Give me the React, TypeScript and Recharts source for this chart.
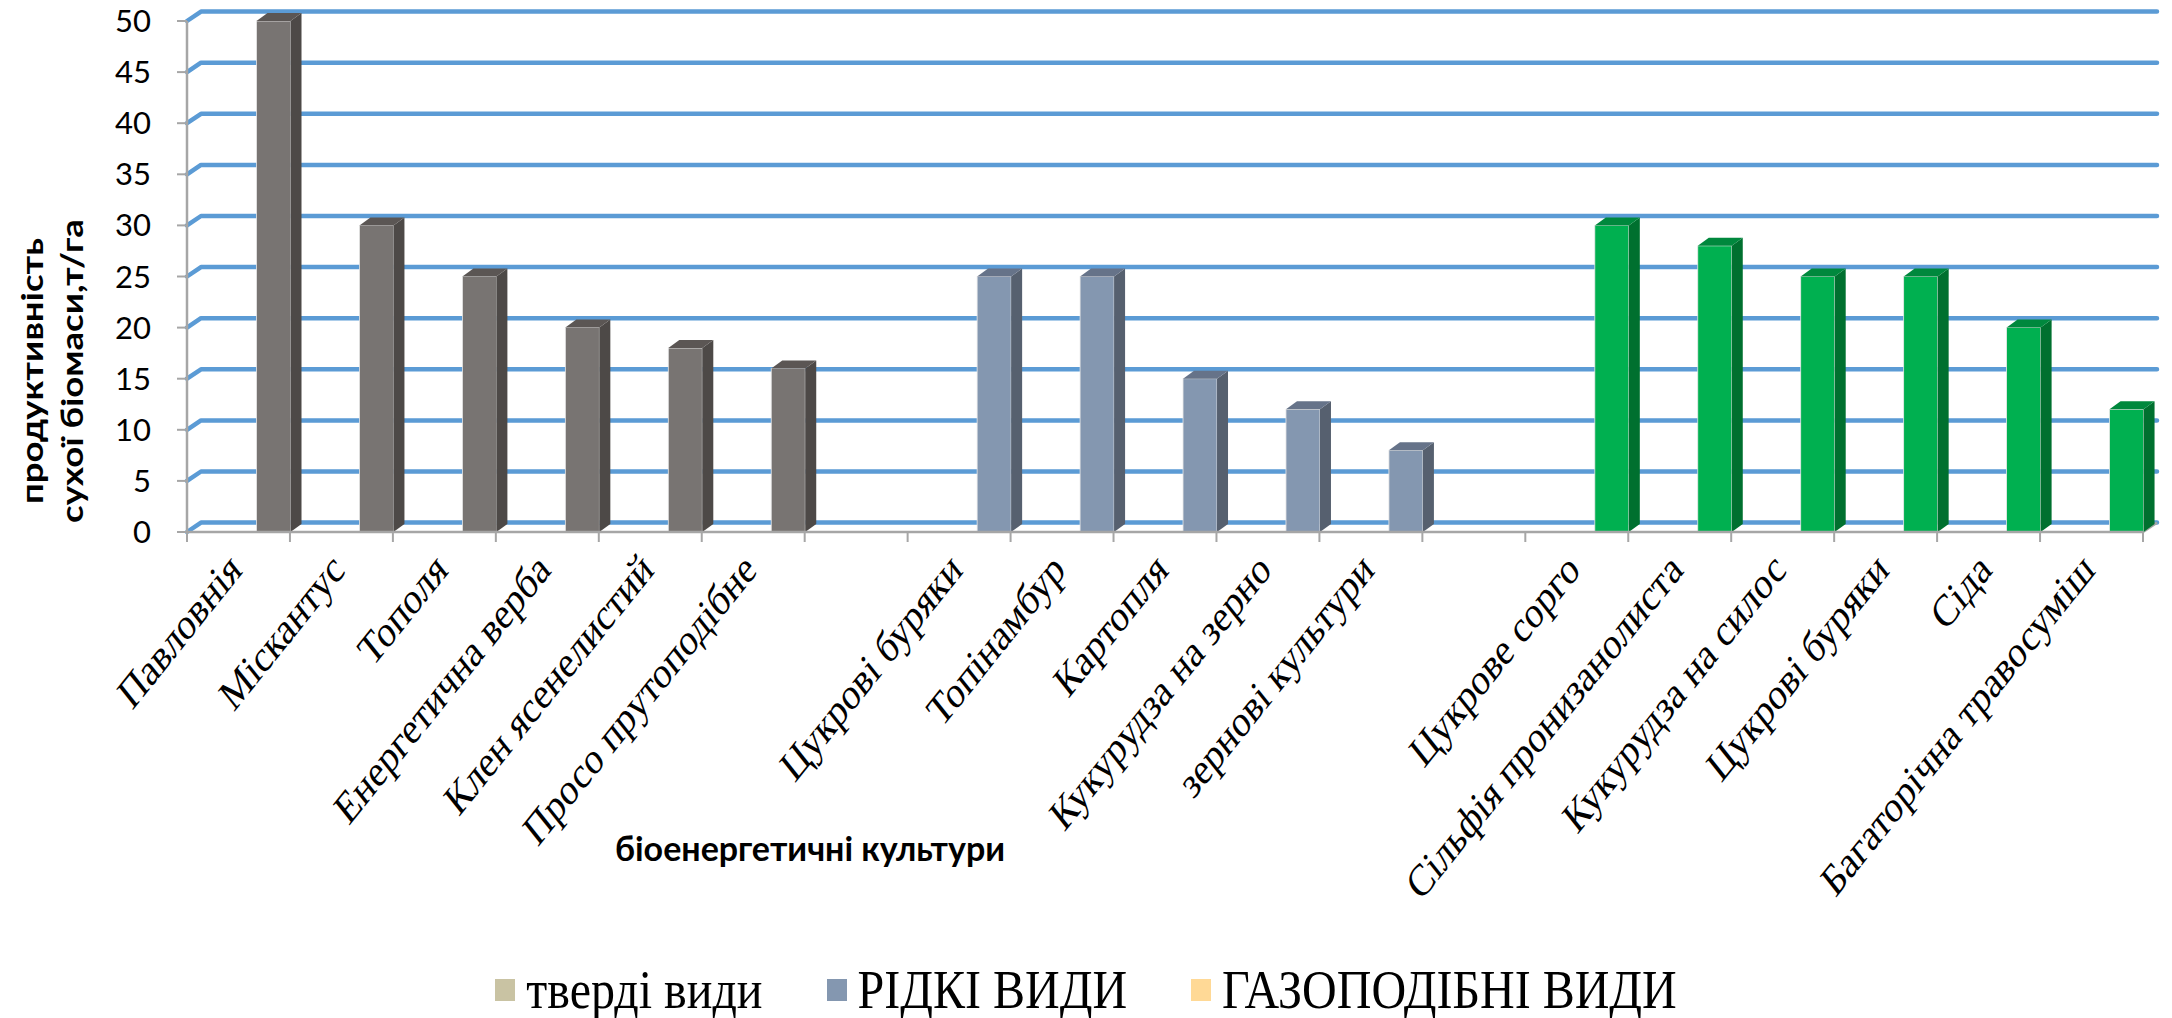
import { Bar, BarChart, CartesianGrid, Label, Legend, XAxis, YAxis } from 'recharts';

const solidCrops = ['Павловнія', 'Міскантус', 'Тополя', 'Енергетична верба', 'Клен ясенелистий', 'Просо прутоподібне'];
const solidYield = [50, 30, 25, 20, 18, 16];
const liquidCrops = ['Цукрові буряки', 'Топінамбур', 'Картопля', 'Кукурудза на зерно', 'зернові культури'];
const liquidYield = [25, 25, 15, 12, 8];
const gasCrops = ['Цукрове сорго', 'Сільфія пронизанолиста', 'Кукурудза на силос', 'Цукрові буряки', 'Сіда', 'Багаторічна травосуміш'];
const gasYield = [30, 28, 25, 25, 20, 12];
const yTicks = [0, 5, 10, 15, 20, 25, 30, 35, 40, 45, 50];

const seriesNames = ['тверді види', 'РІДКІ ВИДИ', 'ГАЗОПОДІБНІ ВИДИ'];

// one row per category, with an empty slot between groups
const data = [
  ...solidCrops.map((name, i) => ({ name, solid: solidYield[i] })),
  { name: '' },
  ...liquidCrops.map((name, i) => ({ name, liquid: liquidYield[i] })),
  { name: '' },
  ...gasCrops.map((name, i) => ({ name, gas: gasYield[i] })),
];

const W = 2172;
const H = 1018;
const WALL_DX = 14;
const WALL_DY = 9.4;
const BAR_SHIFT = 35.5;
const BAR_DX = 11;
const BAR_DY = 8;
const STRETCH = 1.25; // the source picture is stretched vertically
const serif = '"Liberation Serif", "Times New Roman", serif';
const sans = 'Lato, "Open Sans", sans-serif';

const palette = {
  solid: { front: '#787472', side: '#4D4947', top: '#5B5654', legend: '#C9C3A3' },
  liquid: { front: '#8497B0', side: '#56606F', top: '#667389', legend: '#8497B0' },
  gas: { front: '#00B050', side: '#00702F', top: '#00883D', legend: '#FFD996' },
};

function Box3D(props: any) {
  const { x, y, width, height, colors } = props;
  if (!height || height <= 0 || Number.isNaN(y)) return null;
  const x0 = x + BAR_SHIFT;
  const x1 = x0 + width;
  const y1 = y + height;
  return (
    <g>
      <rect x={x0} y={y} width={width} height={height} fill={colors.front} stroke="#E8E8E8" strokeWidth={0.8} />
      <polygon
        points={`${x1},${y} ${x1 + BAR_DX},${y - BAR_DY} ${x1 + BAR_DX},${y1 - BAR_DY} ${x1},${y1}`}
        fill={colors.side}
      />
      <polygon
        points={`${x0},${y} ${x0 + BAR_DX},${y - BAR_DY} ${x1 + BAR_DX},${y - BAR_DY} ${x1},${y}`}
        fill={colors.top}
      />
    </g>
  );
}

function GridLine(props: any) {
  const { x1, x2, y1, index } = props;
  const yb = y1 - WALL_DY;
  return (
    <g key={`grid-${index}`}>
      <polyline
        points={`${x1},${y1} ${x1 + WALL_DX},${yb} ${x2 + WALL_DX},${yb}`}
        fill="none"
        stroke="#5B9BD5"
        strokeWidth={4.5}
        strokeLinecap="round"
        strokeLinejoin="round"
      />
      {index === 0 && (
        <line x1={x2} y1={y1} x2={x2 + WALL_DX} y2={yb} stroke="#A6A6A6" strokeWidth={2.5} />
      )}
    </g>
  );
}

function CropTick(props: any) {
  const { x, y, payload, index } = props;
  const half = payload.offset ?? 51.5;
  return (
    <g>
      <line x1={x - half} y1={y} x2={x - half} y2={y + 10} stroke="#A6A6A6" strokeWidth={2} />
      {index === data.length - 1 && (
        <line x1={x + half} y1={y} x2={x + half} y2={y + 10} stroke="#A6A6A6" strokeWidth={2} />
      )}
      <text
        transform={`translate(${x + 5},${y + 40}) scale(1,${STRETCH}) rotate(-45)`}
        textAnchor="end"
        fontFamily={serif}
        fontSize={36}
        fill="#000"
      >
        {payload.value}
      </text>
    </g>
  );
}

function LegendBox({ payload }: any) {
  const items = [...(payload || [])].sort(
    (a: any, b: any) => seriesNames.indexOf(a.value) - seriesNames.indexOf(b.value),
  );
  return (
    <div style={{ display: 'flex', justifyContent: 'center', alignItems: 'center', gap: 64 }}>
      {items.map((item: any) => (
        <div key={item.value} style={{ display: 'flex', alignItems: 'center', gap: 11 }}>
          <span style={{ display: 'inline-block', width: 20, height: 22, background: item.color }} />
          <span
            style={{
              fontFamily: serif,
              fontSize: 48,
              color: '#000',
              lineHeight: '56px',
              display: 'inline-block',
              transform: 'scale(1, 1.15)',
            }}
          >
            {item.value}
          </span>
        </div>
      ))}
    </div>
  );
}

export default function App() {
  return (
    <div style={{ position: 'absolute', left: 0, top: 0, width: W, height: H, background: '#fff' }}>
      <BarChart width={W} height={H} data={data} margin={{ top: 21, right: 29, left: 0, bottom: 0 }}>
        <CartesianGrid vertical={false} horizontal={GridLine} />
        <XAxis
          dataKey="name"
          interval={0}
          height={486}
          tickSize={0}
          tickMargin={0}
          tickLine={false}
          axisLine={{ stroke: '#A6A6A6', strokeWidth: 2.5 }}
          tick={<CropTick />}
        >
          <Label
            content={() => (
              <text x={810} y={861} textAnchor="middle" fontFamily={sans} fontWeight={700} fontSize={34} fill="#000">
                біоенергетичні культури
              </text>
            )}
          />
        </XAxis>
        <YAxis
          width={187}
          domain={[0, 50]}
          ticks={yTicks}
          interval={0}
          tickSize={10}
          tickMargin={26}
          tickLine={{ stroke: '#A6A6A6', strokeWidth: 2 }}
          axisLine={{ stroke: '#A6A6A6', strokeWidth: 2.5 }}
          tick={{ fontFamily: sans, fontSize: 31, fill: '#000' }}
        >
          <Label
            content={() => (
              <g fontFamily={sans} fontWeight={700} fontSize={31} fill="#000">
                <text transform="translate(43,371) rotate(-90) scale(1.18,1)" textAnchor="middle">
                  продуктивність
                </text>
                <text transform="translate(83,371) rotate(-90) scale(1.18,1)" textAnchor="middle">
                  сухої біомаси,т/га
                </text>
              </g>
            )}
          />
        </YAxis>
        <Legend
          verticalAlign="middle"
          align="center"
          content={<LegendBox />}
          wrapperStyle={{ top: 962, left: 0, width: W }}
        />
        <Bar
          dataKey="solid"
          name={seriesNames[0]}
          stackId="crops"
          barSize={34}
          fill={palette.solid.legend}
          shape={(p: any) => <Box3D {...p} colors={palette.solid} />}
          isAnimationActive={false}
        />
        <Bar
          dataKey="liquid"
          name={seriesNames[1]}
          stackId="crops"
          barSize={34}
          fill={palette.liquid.legend}
          shape={(p: any) => <Box3D {...p} colors={palette.liquid} />}
          isAnimationActive={false}
        />
        <Bar
          dataKey="gas"
          name={seriesNames[2]}
          stackId="crops"
          barSize={34}
          fill={palette.gas.legend}
          shape={(p: any) => <Box3D {...p} colors={palette.gas} />}
          isAnimationActive={false}
        />
      </BarChart>
    </div>
  );
}
